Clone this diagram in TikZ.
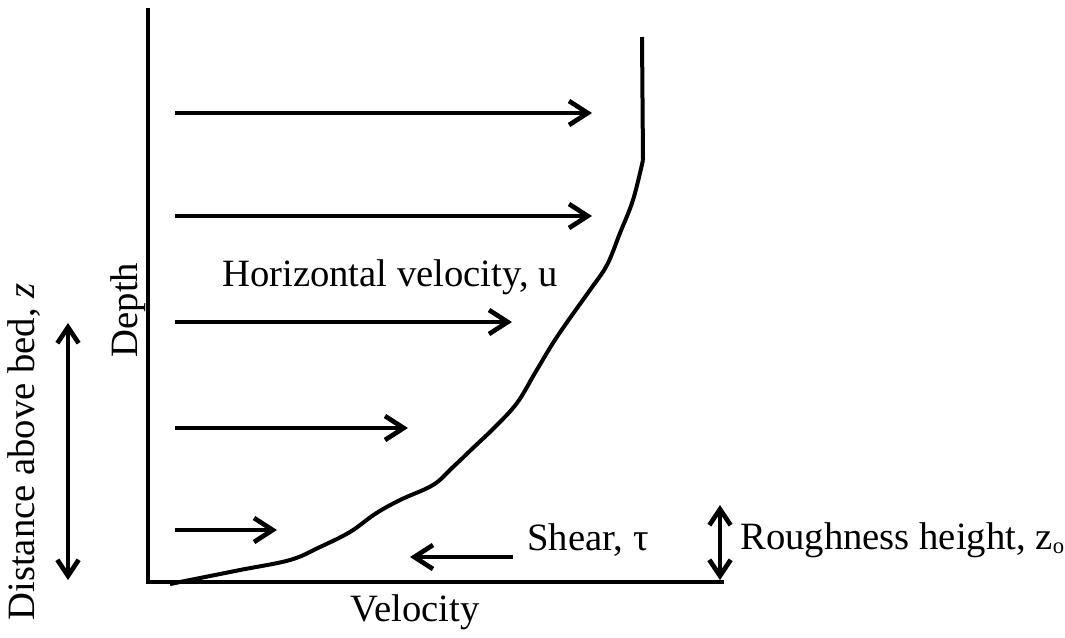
\documentclass[tikz,border=0pt]{standalone}
\usepackage{fontspec}
\setmainfont{Liberation Serif}
\usetikzlibrary{arrows.meta, positioning}

\begin{document}
\begin{tikzpicture}[
    x=0.75pt, y=-0.75pt,
    axis/.style={line width=3pt, line cap=rect},
    flow/.style={line width=3.5pt, -{Straight Barb[length=14pt, width=18pt]}},
    span/.style={line width=3.5pt, {Straight Barb[length=12pt, width=16pt]}-{Straight Barb[length=12pt, width=16pt]}},
    profile/.style={line width=3pt, line join=round},
    label/.style={font=\fontsize{29}{33}\selectfont, inner sep=0pt}
]
    \useasboundingbox (0,0) rectangle (1065,637);

    % axes
    \draw[axis] (148,10) -- (148,582) -- (722,582);

    % velocity profile
    \draw[profile] (642,37) -- (643,160)
        plot[smooth, tension=0.6] coordinates {(643,160) (633,200) (620,233)
        (607,265) (590,290) (570,318) (553,343) (535,373)
        (517,403) (495,427) (473,448) (452,468) (433,485)
        (400,500) (375,514) (350,532) (320,547) (290,560)
        (240,570) (200,578) (170,584)};

    % horizontal velocity arrows
    \draw[flow] (175,113) -- (592,113);
    \draw[flow] (175,216) -- (592,216);
    \draw[flow] (175,322) -- (512,322);
    \draw[flow] (175,428) -- (408,428);
    \draw[flow] (175,530) -- (277,530);

    % shear
    \draw[flow] (513,557) -- (410,557);

    % heights
    \draw[span] (720,505) -- (720,580);
    \draw[span] (68,323) -- (68,580);

    \node[label] (horiz) at (390,277) {Horizontal velocity, u};
    \node[label, rotate=90] (depth) at (128,310) {Depth};
    \node[label, rotate=90] (dist) at (24,452) {Distance above bed, \emph{z}};
    \node[label] (vel) at (415,612) {Velocity};
    \node[label] (shear) at (588,540) {Shear, τ};
    \node[label, anchor=west] (rough) at (740,540)
        {Roughness height, z\raisebox{-0.12em}{\fontsize{17}{17}\selectfont o}};
\end{tikzpicture}
\end{document}
